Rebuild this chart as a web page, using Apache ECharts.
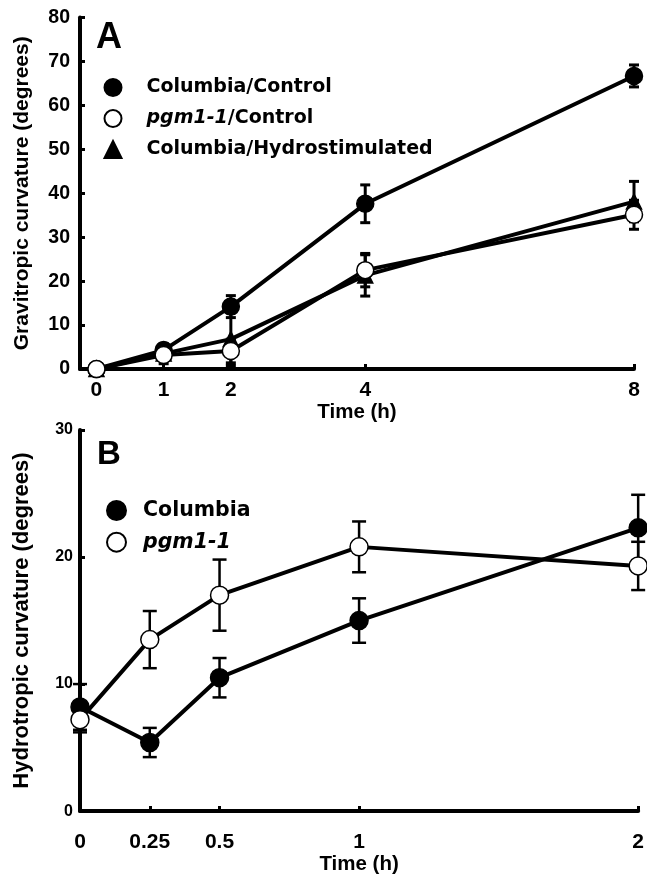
<!DOCTYPE html>
<html>
<head>
<meta charset="utf-8">
<script src="https://cdn.jsdelivr.net/npm/echarts@6/dist/echarts.min.js"></script>
<style>
  html, body { margin: 0; padding: 0; background: #fff; }
  #main { width: 647px; height: 876px; }
</style>
</head>
<body>
<div id="main"></div>
<script>
// Panel A - gravitropic curvature
const timeA = [0, 1, 2, 4, 8]
const colCtrl = [0, 4.3, 14.2, 37.6, 66.7]
const colCtrlErr = [0, 0.9, 2.5, 4.3, 2.5]
const pgmCtrl = [0, 3.2, 4.1, 22.5, 35.1]
const pgmCtrlErr = [0, 0.8, 2.7, 3.8, 3.3]
const colHydro = [0, 3.5, 6.8, 21.3, 38.1]
const colHydroErr = [0, 2.3, 6.0, 4.7, 4.6]
const xTicksA = [0, 1, 2, 4, 8]

// Panel B - hydrotropic curvature
const timeB = [0, 0.25, 0.5, 1, 2]
const colB = [8.2, 5.4, 10.5, 15.0, 22.3]
const colBErr = [1.8, 1.15, 1.55, 1.75, 2.6]
const pgmB = [7.2, 13.5, 17.0, 20.8, 19.3]
const pgmBErr = [1.0, 2.25, 2.8, 2.0, 1.9]
const xTicksB = [0, 0.25, 0.5, 1, 2]

const FONT = '"Liberation Sans", Arial, Helvetica, sans-serif'
const WIDE = '"DejaVu Sans", Verdana, sans-serif'   // legend text is wider
const chart = echarts.init(document.getElementById('main'), null, { renderer: 'canvas' })

function pairs(xs, ys) {
  return xs.map((x, i) => [x, ys[i]])
}
function errData(xs, ys, es) {
  return xs.map((x, i) => [x, ys[i] - es[i], ys[i] + es[i]])
}
// error bar: vertical stem + two caps
function errSeries(name, idx, data, capW, lw) {
  return {
    type: 'custom',
    name: name + '_err',
    xAxisIndex: idx,
    yAxisIndex: idx,
    z: 1,
    silent: true,
    clip: false,
    data: data,
    renderItem: function (params, api) {
      const lo = api.coord([api.value(0), api.value(1)])
      const hi = api.coord([api.value(0), api.value(2)])
      const st = { stroke: '#000', lineWidth: lw }
      return {
        type: 'group',
        children: [
          { type: 'line', shape: { x1: lo[0], y1: lo[1], x2: hi[0], y2: hi[1] }, style: st },
          { type: 'line', shape: { x1: lo[0] - capW / 2, y1: lo[1], x2: lo[0] + capW / 2, y2: lo[1] }, style: st },
          { type: 'line', shape: { x1: hi[0] - capW / 2, y1: hi[1], x2: hi[0] + capW / 2, y2: hi[1] }, style: st }
        ]
      }
    }
  }
}
function lineSeries(name, idx, data, symbol, fill, size, z) {
  return {
    type: 'line',
    name: name,
    xAxisIndex: idx,
    yAxisIndex: idx,
    data: data,
    symbol: symbol,
    symbolSize: size,
    showAllSymbol: true,
    clip: false,
    z: z,
    lineStyle: { color: '#000', width: 4 },
    itemStyle: { color: fill, borderColor: '#000', borderWidth: 1.5, opacity: 1 }
  }
}

const axisLine = { show: true, onZero: false, lineStyle: { color: '#000', width: 4 } }
const tickIn = { show: true, inside: true, length: 5, lineStyle: { color: '#000', width: 3 } }
const nameStyle = { color: '#000', fontSize: 21, fontWeight: 'bold', fontFamily: FONT }

const option = {
  backgroundColor: '#fff',
  animation: false,
  textStyle: { fontFamily: FONT },
  grid: [
    { left: 80, right: 13, top: 17.5, bottom: 507 },
    { left: 80, right: 7, top: 430, bottom: 61 }
  ],
  xAxis: [
    {
      type: 'value', gridIndex: 0, min: -0.245, max: 8,
      name: 'Time (h)', nameLocation: 'middle', nameGap: 32,
      nameTextStyle: Object.assign({}, nameStyle, { fontSize: 20.5 }),
      axisLine: axisLine,
      axisTick: Object.assign({ customValues: xTicksA }, tickIn),
      axisLabel: { customValues: xTicksA, color: '#000', fontSize: 21, fontWeight: 'bold', fontFamily: FONT, margin: 11 },
      splitLine: { show: false }
    },
    {
      type: 'value', gridIndex: 1, min: 0, max: 2,
      name: 'Time (h)', nameLocation: 'middle', nameGap: 42,
      nameTextStyle: Object.assign({}, nameStyle, { fontSize: 20.5 }),
      axisLine: axisLine,
      axisTick: Object.assign({ customValues: xTicksB }, tickIn),
      axisLabel: { customValues: xTicksB, color: '#000', fontSize: 21, fontWeight: 'bold', fontFamily: FONT, margin: 21 },
      splitLine: { show: false }
    }
  ],
  yAxis: [
    {
      type: 'value', gridIndex: 0, min: 0, max: 80, interval: 10,
      name: 'Gravitropic curvature (degrees)', nameLocation: 'middle', nameGap: 47,
      nameTextStyle: nameStyle,
      axisLine: axisLine, axisTick: tickIn,
      axisLabel: { color: '#000', fontSize: 19.5, fontWeight: 'bold', fontFamily: FONT, margin: 10 },
      splitLine: { show: false }
    },
    {
      type: 'value', gridIndex: 1, min: 0, max: 30, interval: 10,
      name: 'Hydrotropic curvature (degrees)', nameLocation: 'middle', nameGap: 47,
      nameTextStyle: Object.assign({}, nameStyle, { fontSize: 22 }),
      axisLine: axisLine, axisTick: tickIn,
      axisLabel: { color: '#000', fontSize: 16, fontWeight: 'bold', fontFamily: FONT, margin: 7 },
      splitLine: { show: false }
    }
  ],
  legend: [
    {
      orient: 'vertical', left: 98.5, top: 73, itemGap: 12, itemWidth: 17, itemHeight: 17,
      selectedMode: false,
      data: [
        { name: 'Columbia/Control', icon: 'circle' },
        { name: 'pgm1-1/Control', icon: 'circle' },
        { name: 'Columbia/Hydrostimulated', icon: 'triangle' }
      ],
      formatter: function (n) { return n === 'pgm1-1/Control' ? '{i|pgm1-1}/Control' : n },
      textStyle: {
        color: '#000', fontSize: 19, fontWeight: 'bold', fontFamily: WIDE, padding: [0, 0, 0, 20],
        rich: { i: { fontStyle: 'italic', fontWeight: 'bold', fontSize: 19, fontFamily: WIDE, color: '#000' } }
      }
    },
    {
      orient: 'vertical', left: 101, top: 495, itemGap: 10.7, itemWidth: 19, itemHeight: 19,
      selectedMode: false,
      data: [
        { name: 'Columbia', icon: 'circle' },
        { name: 'pgm1-1', icon: 'circle' }
      ],
      formatter: function (n) { return n === 'pgm1-1' ? '{i|pgm1-1}' : n },
      textStyle: {
        color: '#000', fontSize: 20.5, fontWeight: 'bold', fontFamily: WIDE, padding: [0, 0, 0, 12],
        rich: { i: { fontStyle: 'italic', fontWeight: 'bold', fontSize: 20.5, fontFamily: WIDE, color: '#000' } }
      }
    }
  ],
  graphic: [
    { type: 'text', left: 96, top: 20, style: { text: 'A', font: 'bold 36px ' + FONT, fill: '#000' } },
    { type: 'text', left: 97, top: 438, style: { text: 'B', font: 'bold 33px ' + FONT, fill: '#000' } }
  ],
  series: [
    errSeries('Columbia/Hydrostimulated', 0, errData(timeA, colHydro, colHydroErr), 10, 3),
    errSeries('pgm1-1/Control', 0, errData(timeA, pgmCtrl, pgmCtrlErr), 10, 3),
    errSeries('Columbia/Control', 0, errData(timeA, colCtrl, colCtrlErr), 10, 3),
    lineSeries('Columbia/Hydrostimulated', 0, pairs(timeA, colHydro), 'triangle', '#000', 15, 3),
    lineSeries('Columbia/Control', 0, pairs(timeA, colCtrl), 'circle', '#000', 17, 4),
    lineSeries('pgm1-1/Control', 0, pairs(timeA, pgmCtrl), 'circle', '#fff', 17, 5),
    errSeries('Columbia', 1, errData(timeB, colB, colBErr), 14, 2.5),
    errSeries('pgm1-1', 1, errData(timeB, pgmB, pgmBErr), 14, 2.5),
    lineSeries('Columbia', 1, pairs(timeB, colB), 'circle', '#000', 18, 4),
    lineSeries('pgm1-1', 1, pairs(timeB, pgmB), 'circle', '#fff', 18, 5)
  ]
}
chart.setOption(option)
</script>
</body>
</html>
